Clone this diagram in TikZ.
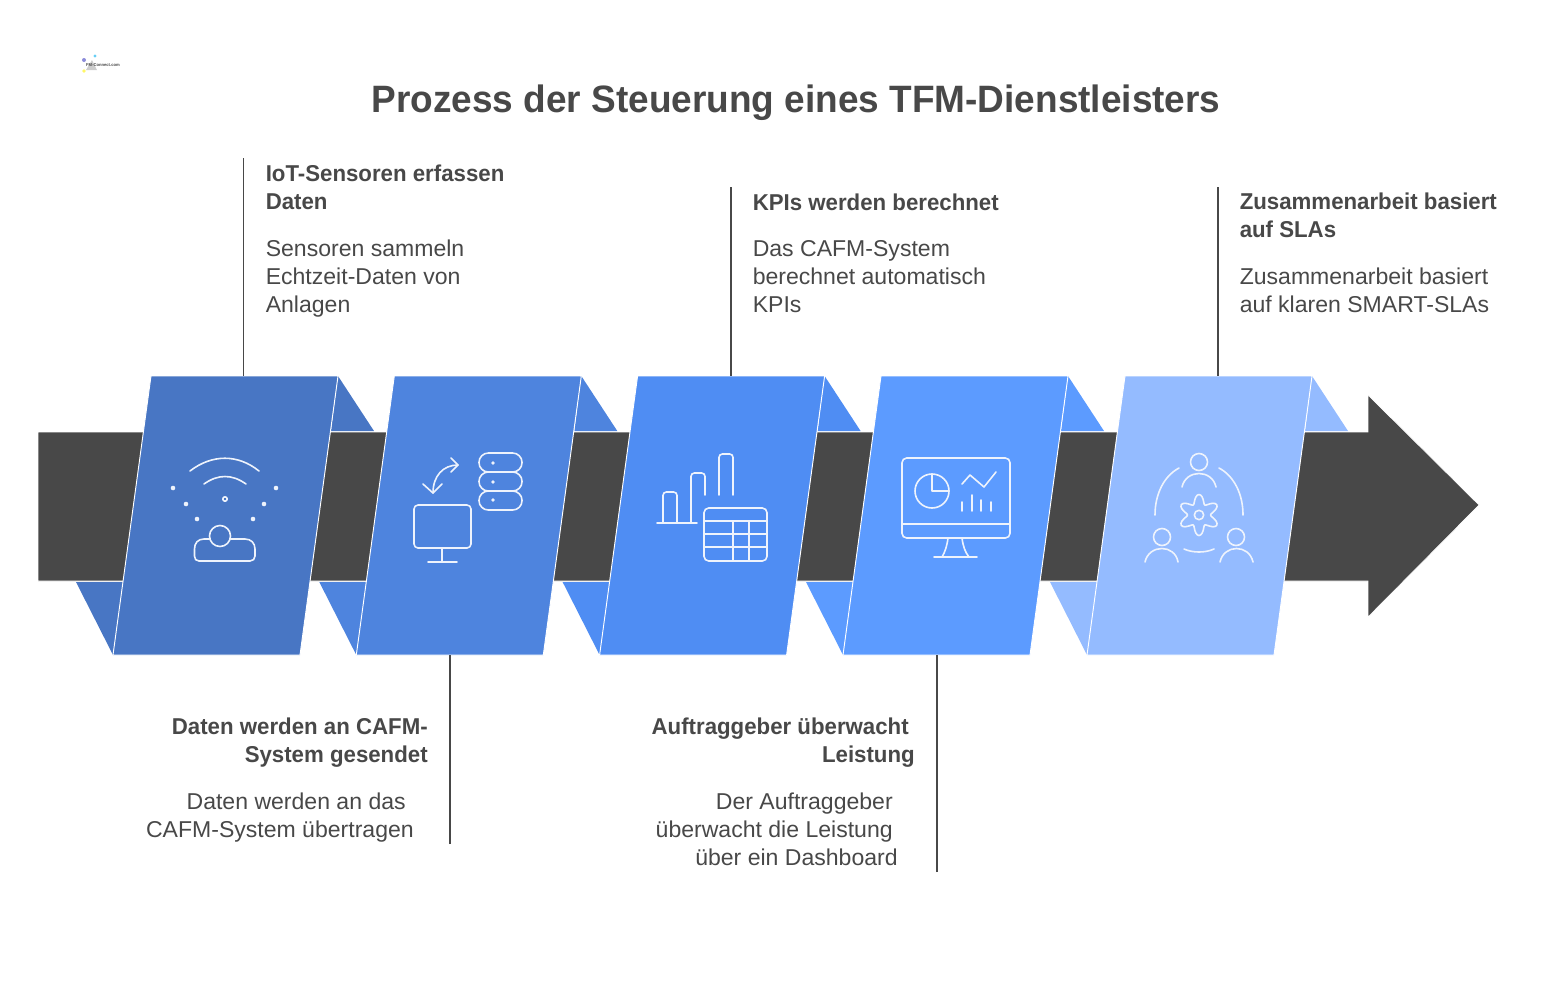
\documentclass[tikz,border=0pt]{standalone}
\usepackage{fontspec}
\setmainfont[FakeStretch=1.005, BoldFeatures={FakeStretch=0.97}]{Liberation Sans}
\usetikzlibrary{positioning}

\definecolor{darkband}{HTML}{484848}
\definecolor{panela}{HTML}{4876C4}
\definecolor{panelb}{HTML}{4E84DE}
\definecolor{panelc}{HTML}{4F8DF3}
\definecolor{paneld}{HTML}{5C9BFF}
\definecolor{panele}{HTML}{94BBFF}
\definecolor{iconline}{HTML}{EEF3FC}

\tikzset{icon/.style={draw=iconline, line width=1.2pt, line cap=round, line join=round}}
\tikzset{icondot/.style={fill=iconline}}
\tikzset{leader/.style={draw=darkband, line width=1.4pt}}
\tikzset{headtext/.style={inner sep=0pt, text=darkband, font=\fontsize{17.2}{21}\selectfont\bfseries, execute at begin node=\strut}}
\tikzset{bodytext/.style={inner sep=0pt, text=darkband, font=\fontsize{17.2}{21}\selectfont, execute at begin node=\strut}}

\begin{document}
\begin{tikzpicture}[x=0.75pt, y=-0.75pt]
\useasboundingbox (0,0) rectangle (1558,993);

%logo
\fill[blue!50!gray!60] (84,60) circle (2);
\fill[cyan!60] (95,56) circle (1.6);
\fill[yellow!60] (84,71) circle (1.8);
\fill[gray!40] (92,60) -- (86,70) -- (97,70) -- cycle;
\node[inner sep=0pt, text=darkband, font=\fontsize{3.2}{4}\selectfont\bfseries] (logotext) at (103,65) {FM-Connect.com};

%title
\node[inner sep=0pt, text=darkband, font=\fontsize{28.6}{32}\selectfont\bfseries] (title) at (796,103) {Prozess der Steuerung eines TFM-Dienstleisters};

%band and arrow head
\draw[fill=darkband, draw=white, line width=0.5pt]
  (38,432) -- (1368,432) -- (1368,395) -- (1479,505) -- (1368,617) -- (1368,581) -- (38,581) -- cycle;

%panels with their folds
\foreach \i/\dx/\col in {a/0/panela, b/243.3/panelb, c/486.6/panelc, d/730/paneld, e/974/panele}
{
  \begin{scope}[shift={(\dx,0)}]
    \fill[\col] (338,376) -- (374,431) -- (331,431) -- cycle;
    \fill[\col] (76,582) -- (123,582) -- (113,655) -- cycle;
    \draw[fill=\col, draw=white, line width=0.7pt] (151,376) -- (338,376) -- (300,655) -- (113,655) -- cycle;
    \coordinate (top\i) at (244.5,376);
    \coordinate (bot\i) at (206.5,655);
  \end{scope}
}

%leader lines
\coordinate (enda) at (243.5,158);
\coordinate (endc) at (731,187);
\coordinate (ende) at (1218,187);
\coordinate (endb) at (450,844);
\coordinate (endd) at (937,872);
\draw[leader] (enda) -- (enda |- topa);
\draw[leader] (endc) -- (endc |- topc);
\draw[leader] (ende) -- (ende |- tope);
\draw[leader] (endb) -- (endb |- botb);
\draw[leader] (endd) -- (endd |- botd);

%icon sensors
\draw[icon] (190,471) .. controls (212,454) and (238,454) .. (259,471);
\draw[icon] (204,484) .. controls (218,474) and (232,474) .. (246,484);
\draw[icon] (225,499) circle (2.2);
\foreach \px/\py in {173/488, 186/504, 197/519, 276/488, 264/504, 253/519}
  \fill[icondot] (\px,\py) circle (2.3);
\draw[icon] (209.5,539) -- (204,539) .. controls (198,539) and (194.5,543) .. (194.5,549) -- (194.5,556)
  .. controls (194.5,559) and (196,561) .. (199,561) -- (250,561) .. controls (253,561) and (255,559) .. (255,556)
  -- (255,549) .. controls (255,543) and (251,539) .. (245,539) -- (230.5,539);
\draw[icon] (220,536) circle (10.5);

%icon transfer
\draw[icon] (458,465) .. controls (443,465) and (433,476) .. (433,493);
\draw[icon] (451,458) -- (458,465) -- (451,472);
\draw[icon] (423,484) -- (433,493) -- (442,484);
\draw[icon, rounded corners=7pt] (479,453) rectangle (522,472);
\draw[icon, rounded corners=7pt] (479,472) rectangle (522,491);
\draw[icon, rounded corners=7pt] (479,491) rectangle (522,510);
\fill[icondot] (493,463) circle (1.9);
\fill[icondot] (493,482) circle (1.9);
\fill[icondot] (493,500) circle (1.9);
\draw[icon, rounded corners=3pt] (414,505) rectangle (471,548);
\draw[icon] (442,548) -- (442,562);
\draw[icon] (428,562) -- (457,562);

%icon charts
\draw[icon] (657,523) -- (697,523);
\draw[icon, rounded corners=2.5pt] (663,523) -- (663,492) -- (677,492) -- (677,523);
\draw[icon, rounded corners=2.5pt] (691,523) -- (691,473) -- (705,473) -- (705,495);
\draw[icon, rounded corners=2.5pt] (719,495) -- (719,454) -- (733,454) -- (733,495);
\draw[icon, rounded corners=3.5pt] (704,508) rectangle (767,561);
\draw[icon] (704,521) -- (767,521);
\draw[icon] (704,534) -- (767,534);
\draw[icon] (704,547) -- (767,547);
\draw[icon] (733,521) -- (733,561);
\draw[icon] (749,521) -- (749,561);

%icon dashboard
\draw[icon, rounded corners=3.5pt] (902,458) rectangle (1010,538);
\draw[icon] (902,524) -- (1010,524);
\draw[icon] (948,538) .. controls (947,546) and (945,552) .. (942,557);
\draw[icon] (962,538) .. controls (963,546) and (965,552) .. (969,557);
\draw[icon] (934,557) -- (977,557);
\draw[icon] (932,491) circle (17);
\draw[icon] (932,474) -- (932,491) -- (949,491);
\draw[icon] (962,484) -- (970,475) -- (984,487) -- (996,472);
\draw[icon] (962,502) -- (962,511);
\draw[icon] (972,495) -- (972,511);
\draw[icon] (981,500) -- (981,511);
\draw[icon] (991,502) -- (991,511);

%icon team
\draw[icon] (1199,462) circle (8.5);
\draw[icon] (1182,487) .. controls (1186,469) and (1212,469) .. (1216,487);
\draw[icon] (1162,537) circle (8.5);
\draw[icon] (1145,562) .. controls (1149,544) and (1175,544) .. (1178,562);
\draw[icon] (1236,537) circle (8.5);
\draw[icon] (1220,562) .. controls (1224,544) and (1249,544) .. (1253,562);
\draw[icon] (1179,468) .. controls (1164,476) and (1155,494) .. (1155,515);
\draw[icon] (1219,468) .. controls (1234,476) and (1243,494) .. (1243,515);
\draw[icon] (1184,549) .. controls (1193,553) and (1205,553) .. (1214,549);
\draw[icon] (1199,515) circle (4.7);
\draw[icon, domain=0:360, samples=73, smooth] plot ({1199+(16+4.5*cos(6*(\x-90)))*cos(\x)}, {515+(16+4.5*cos(6*(\x-90)))*sin(\x)});

%texts above
\node[headtext, anchor=north west, align=left] (heada) at (265.5,165) {IoT-Sensoren erfassen\\Daten};
\node[bodytext, anchor=north west, align=left] (bodya) at (265.5,240) {Sensoren sammeln\\Echtzeit-Daten von\\Anlagen};
\node[headtext, anchor=north west, align=left] (headc) at (752.5,190.4) {KPIs werden berechnet};
\node[bodytext, anchor=north west, align=left] (bodyc) at (752.5,240) {Das CAFM-System\\berechnet automatisch\\KPIs};
\node[headtext, anchor=north west, align=left] (heade) at (1239.5,193) {Zusammenarbeit basiert\\auf SLAs};
\node[bodytext, anchor=north west, align=left] (bodye) at (1239.5,268) {Zusammenarbeit basiert\\auf klaren SMART-SLAs};

%texts below
\node[headtext, anchor=north east, align=right] (headb) at (428,718) {Daten werden an CAFM-\\System gesendet};
\node[bodytext, anchor=north east, align=right] (bodyb) at (414,793) {\mbox{Daten werden an das\hspace{6pt}}\\CAFM-System übertragen};
\node[headtext, anchor=north east, align=right] (headd) at (915,718) {\mbox{Auftraggeber überwacht\hspace{4.5pt}}\\Leistung};
\node[bodytext, anchor=north east, align=right] (bodyd) at (898,793) {\mbox{Der Auftraggeber\hspace{3.75pt}}\\\mbox{überwacht die Leistung\hspace{3.75pt}}\\über ein Dashboard};

\end{tikzpicture}
\end{document}
